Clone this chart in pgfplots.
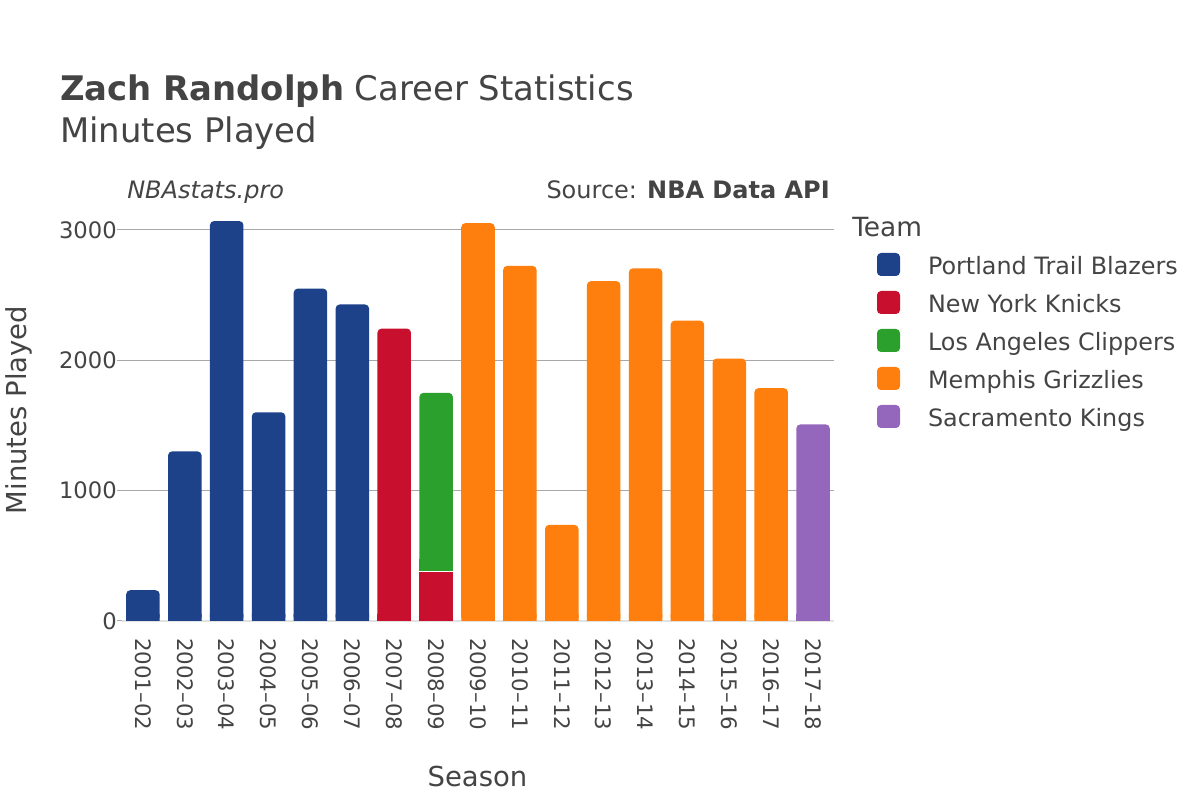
\documentclass[border=0pt]{standalone}
\usepackage{pgfplots}
\pgfplotsset{compat=1.18}
\usepackage{pgfplotstable}
\usepackage{fontspec}
\setmainfont{DejaVu Sans}
\definecolor{txt}{HTML}{444444}
\definecolor{gridc}{HTML}{A8A8A8}
\definecolor{zl}{HTML}{E2E2E2}
\definecolor{cPT}{HTML}{1D428A}
\definecolor{cNY}{HTML}{C8102E}
\definecolor{cLAC}{HTML}{2CA02C}
\definecolor{cMEM}{HTML}{FF7F0E}
\definecolor{cSAC}{HTML}{9467BD}

% Minutes played per season (x = season index, 0 = 2001-02)
\pgfplotstableread{
x y
0 236
1 1301
2 3068
3 1601
4 2550
5 2428
}\ptdata
\pgfplotstableread{
x y
6 2243
}\nydata
\pgfplotstableread{
x y
7 385
}\nyEdata
\pgfplotstableread{
x y
7 1365
}\lacdata
\pgfplotstableread{
x y
8 3052
9 2724
10 737
11 2607
12 2705
13 2304
14 2013
15 1786
}\memdata
\pgfplotstableread{
x y
16 1508
}\sacdata

\pgfplotsset{
  sqlegend/.style={legend image code/.code={\fill[##1] (0pt,-1.125pt) rectangle (17.25pt,16.125pt);}},
  base/.style={width=534pt, scale only axis, xmin=-0.5, xmax=16.5,
    enlargelimits=false, bar width=0.8, anchor=south west},
}

\begin{document}
\begin{tikzpicture}
\useasboundingbox (0pt,0pt) rectangle (900pt,600pt);

% main axis
\begin{axis}[base, at={(91.5pt,134.25pt)}, height=315pt, ymin=0, ymax=3222,
  ybar, bar shift=0pt,
  axis lines=left, axis line style={-},
  x axis line style={draw=zl, line width=1.5pt},
  y axis line style={draw=none},
  xtick={0,...,16},
  xticklabels={2001–02,2002–03,2003–04,2004–05,2005–06,2006–07,2007–08,2008–09,2009–10,2010–11,2011–12,2012–13,2013–14,2014–15,2015–16,2016–17,2017–18},
  xtick style={draw=none},
  ytick={0,1000,2000,3000},
  ytick style={draw=gridc, line width=0.75pt},
  tick align=outside, major tick length=3.75pt,
  ymajorgrids, grid style={draw=gridc, line width=0.75pt},
  tick label style={text=txt},
  yticklabel style={font=\fontsize{17}{20}\selectfont, anchor=east, inner sep=0pt},
  xticklabel style={font=\fontsize{16}{19}\selectfont, yshift=-9pt, rotate=-90, anchor=west, inner sep=0pt},
  /pgf/number format/assume math mode=true, /pgf/number format/1000 sep={},
  scaled y ticks=false,
  every axis plot post/.append style={sqlegend},
  legend style={at={(axis description cs:1.0604,0.8762)}, anchor=north west,
    draw=none, fill=none, inner sep=0pt, outer sep=0pt,
    font=\fontsize{17.9}{21}\selectfont, text=txt,
    row sep=8.375pt, column sep=21pt,
    nodes={inner sep=0pt, text height=13pt, text depth=4pt, anchor=base west}},
]
\addplot[fill=cPT, draw=none, rounded corners=3pt] table[x=x,y=y]{\ptdata};
\addlegendentry{Portland Trail Blazers}
\addplot[fill=cNY, draw=none, rounded corners=3pt] table[x=x,y=y]{\nydata};
\addlegendentry{New York Knicks}
\addlegendimage{sqlegend, fill=cLAC, draw=none, rounded corners=3pt}
\addlegendentry{Los Angeles Clippers}
\addplot[fill=cMEM, draw=none, rounded corners=3pt] table[x=x,y=y]{\memdata};
\addlegendentry{Memphis Grizzlies}
\addplot[fill=cSAC, draw=none, rounded corners=3pt] table[x=x,y=y]{\sacdata};
\addlegendentry{Sacramento Kings}
\end{axis}

% 2008-09: stacked New York Knicks + Los Angeles Clippers
\begin{axis}[base, hide axis, at={(91.5pt,134.25pt)}, height=315pt, ymin=0, ymax=3222, ybar stacked]
\addplot[fill=cNY, draw=none] table[x=x,y=y]{\nyEdata};
\addplot[fill=cLAC, draw=none, rounded corners=3pt] table[x=x,y=y]{\lacdata};
\end{axis}

% square bottoms: same bars, clipped to a low band
\begin{axis}[base, hide axis, at={(91.5pt,134.25pt)}, height=4.888pt, ymin=0, ymax=50, ybar, bar shift=0pt]
\addplot[fill=cPT, draw=none] table[x=x,y=y]{\ptdata};
\addplot[fill=cNY, draw=none] table[x=x,y=y]{\nydata};
\addplot[fill=cNY, draw=none] table[x=x,y=y]{\nyEdata};
\addplot[fill=cMEM, draw=none] table[x=x,y=y]{\memdata};
\addplot[fill=cSAC, draw=none] table[x=x,y=y]{\sacdata};
\end{axis}
% square join of the 2008-09 stack, clipped to a band round it
\begin{axis}[base, hide axis, at={(91.5pt,163.58pt)}, height=16.62pt, ymin=300, ymax=470, ybar stacked]
\addplot[fill=cNY, draw=none] table[x=x,y=y]{\nyEdata};
\addplot[fill=cLAC, draw=none] table[x=x,y=y]{\lacdata};
\end{axis}
% thin white seam just under the join
\begin{axis}[base, hide axis, at={(91.5pt,170.91pt)}, height=1.955pt, ymin=375, ymax=395, ybar, bar shift=0pt]
\addplot[fill=white, draw=none] table[x=x,y=y]{\nyEdata};
\end{axis}

\node[anchor=base west, text=txt, inner sep=0pt, font=\fontsize{25.4}{30}\selectfont] at (45pt,524.25pt) {\textbf{Zach Randolph} Career Statistics};
\node[anchor=base west, text=txt, inner sep=0pt, font=\fontsize{25.4}{30}\selectfont] at (45pt,492.75pt) {Minutes Played};
\node[anchor=base west, text=txt, inner sep=0pt, font=\fontsize{18}{22}\selectfont\itshape] at (95.25pt,450.75pt) {NBAstats.pro};
\node[anchor=base east, text=txt, inner sep=0pt, font=\fontsize{18}{22}\selectfont] at (622.5pt,450.75pt) {Source: \textbf{NBA Data API}};
\node[anchor=base west, text=txt, inner sep=0pt, font=\fontsize{19.8}{24}\selectfont] at (639pt,422.25pt) {Team};
\node[anchor=base, text=txt, inner sep=0pt, font=\fontsize{20.6}{24}\selectfont] at (358.1pt,9.75pt) {Season};
\node[anchor=base, rotate=90, text=txt, inner sep=0pt, font=\fontsize{20.6}{24}\selectfont] at (20.25pt,292.5pt) {Minutes Played};
\end{tikzpicture}
\end{document}
